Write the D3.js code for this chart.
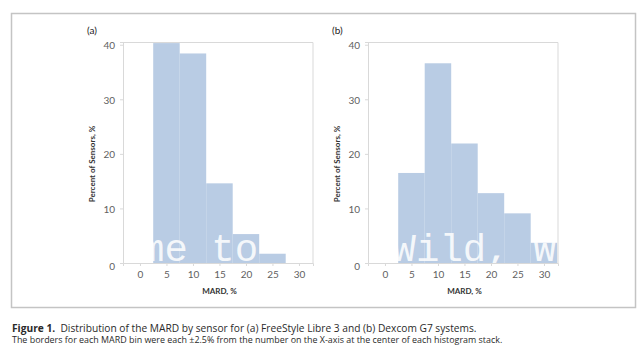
<!DOCTYPE html>
<html>
<head>
<meta charset="utf-8">
<script src="https://cdn.jsdelivr.net/npm/d3@7"></script>
<style>
  body { margin: 0; background: #fff; }
  svg { display: block; font-family: Lato, "Open Sans", sans-serif; }
</style>
</head>
<body>
<div class="chart-container"></div>
<script>
const width = 640, height = 360;

// bin centres (each bin is +-2.5 around the centre)
const binCenters = [5, 10, 15, 20, 25, 30];
// percent of sensors per bin
const libreValues = [40.3, 38.4, 14.6, 5.3, 1.7, 0];
const dexcomValues = [16.5, 36.6, 21.9, 12.8, 9.1, 3.7];
const xTicks = [0, 5, 10, 15, 20, 25, 30];
const yTicks = [0, 10, 20, 30, 40];
const panelNames = ["(a)", "(b)"];

var svg = d3.select(".chart-container")
    .append("svg")
    .attr("width", width)
    .attr("height", height);

// outer figure frame
svg.append("rect")
    .attr("x", 11.5).attr("y", 13.5)
    .attr("width", 624).attr("height", 294)
    .attr("fill", "none")
    .attr("stroke", "#c4c4c4")
    .attr("stroke-width", 1.5);

const plotW = 190, plotH = 221, plotTop = 42;
var x = d3.scaleLinear().domain([-3.2, 32.65]).range([0, plotW]);
var y = d3.scaleLinear().domain([0, 40.5]).range([plotH, 0]);

var barLayer = svg.append("g");
var wmLayer = svg.append("g");
var axisLayer = svg.append("g");

function drawPanel(left, values, name) {
    var gb = barLayer.append("g").attr("transform", "translate(" + left + "," + plotTop + ")");
    var g = axisLayer.append("g").attr("transform", "translate(" + left + "," + plotTop + ")");

    // bars
    gb.selectAll("rect.bar")
        .data(binCenters.map((c, i) => ({c: c, v: values[i]})).filter(d => d.v > 0))
        .enter()
        .append("rect")
        .attr("class", "bar")
        .attr("x", d => x(d.c - 2.5))
        .attr("width", d => x(d.c + 2.5) - x(d.c - 2.5))
        .attr("y", d => y(d.v))
        .attr("height", d => y(0) - y(d.v))
        .attr("fill", "#b9cce4");

    // plot box top and right edges
    g.append("path")
        .attr("d", "M0,0.5H" + plotW + "V" + plotH)
        .attr("fill", "none")
        .attr("stroke", "#d9d9d9");

    var yAxis = g.append("g")
        .call(d3.axisLeft(y).tickValues(yTicks).tickSize(3).tickPadding(5));
    var xAxis = g.append("g")
        .attr("transform", "translate(0," + plotH + ")")
        .call(d3.axisBottom(x).tickValues(xTicks).tickSize(3).tickPadding(5));

    [yAxis, xAxis].forEach(a => {
        a.select(".domain").attr("stroke", "#d9d9d9");
        a.selectAll(".tick line").attr("stroke", "#d9d9d9");
        a.selectAll(".tick text")
            .attr("fill", "#5f5f5f")
            .style("font-size", "10px")
            .style("font-family", "Lato, sans-serif");
    });
    yAxis.selectAll(".tick text").attr("dy", d => d === 0 ? "0.6em" : "0.4em");

    g.append("text")
        .attr("transform", "translate(-28," + 122 + ") rotate(-90)")
        .attr("text-anchor", "middle")
        .attr("fill", "#333")
        .style("font-size", "8px")
        .style("font-weight", "bold")
        .text("Percent of Sensors, %");

    g.append("text")
        .attr("x", x(15))
        .attr("y", plotH + 31)
        .attr("text-anchor", "middle")
        .attr("fill", "#333")
        .style("font-size", "8px")
        .style("font-weight", "bold")
        .text("MARD, %");

    g.append("text")
        .attr("x", -36)
        .attr("y", -8)
        .attr("fill", "#222")
        .style("font-size", "10px")
        .text(name);
}

drawPanel(123, libreValues, panelNames[0]);
drawPanel(368, dexcomValues, panelNames[1]);

// watermark running over the bars
var wm = wmLayer.append("text")
    .attr("y", 261)
    .attr("fill", "#fff")
    .attr("fill-opacity", 0.85)
    .style("font-family", "'Liberation Mono', monospace")
    .style("font-size", "39px");
wm.append("tspan").attr("x", 24).text("Welcome to");
wm.append("tspan").attr("x", 299).text("the Wild, Wild West");

// caption, sized to the width it has in the figure
function fitText(sel, target) {
    var len = sel.node().getComputedTextLength();
    var fs = parseFloat(sel.style("font-size"));
    sel.style("font-size", (fs * target / len) + "px");
}

var cap1 = svg.append("text")
    .attr("x", 12).attr("y", 332)
    .attr("fill", "#2a2a2a")
    .style("font-family", "'Open Sans', sans-serif")
    .style("font-size", "8px");
cap1.append("tspan").style("font-weight", "bold").text("Figure 1.");
cap1.append("tspan").text("\u00a0 Distribution of the MARD by sensor for (a) FreeStyle Libre 3 and (b) Dexcom G7 systems.");
fitText(cap1, 465);

var cap2 = svg.append("text")
    .attr("x", 12).attr("y", 343)
    .attr("fill", "#2a2a2a")
    .style("font-family", "'Open Sans', sans-serif")
    .style("font-size", "7px")
    .text("The borders for each MARD bin were each \u00b12.5% from the number on the X-axis at the center of each histogram stack.");
fitText(cap2, 491);
</script>
</body>
</html>
